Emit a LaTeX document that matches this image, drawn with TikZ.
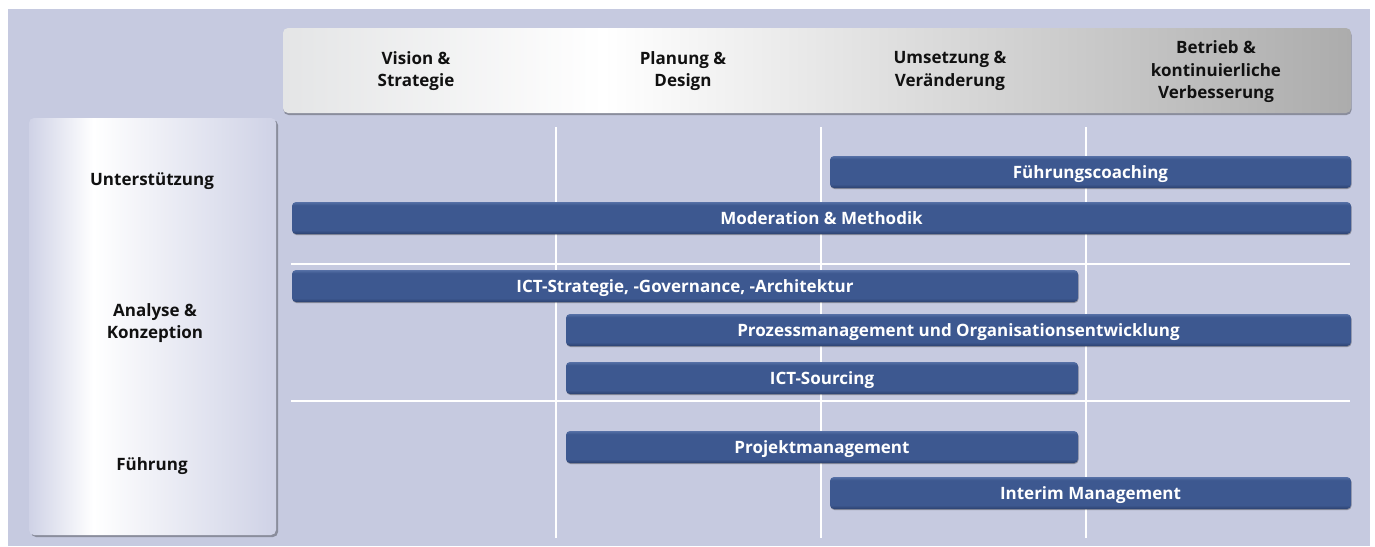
\documentclass[tikz,border=0pt]{standalone}
\usepackage{fontspec}
\setmainfont{Open Sans}
\usetikzlibrary{shadows}

\definecolor{backlav}{HTML}{C6CAE0}
\definecolor{levellav}{HTML}{CFD2E6}
\definecolor{barblue}{HTML}{3D5890}
\definecolor{bartop}{HTML}{5670A6}
\definecolor{barlow}{HTML}{2C416F}
\definecolor{headleft}{HTML}{E4E5E6}
\definecolor{headright}{HTML}{ACACAC}
\definecolor{labeltext}{HTML}{111111}

\pgfdeclarehorizontalshading{headshade}{100bp}{color(0bp)=(headleft); color(25bp)=(headleft); color(40bp)=(white); color(75bp)=(headright); color(100bp)=(headright)}
\pgfdeclarehorizontalshading{levelshade}{100bp}{color(0bp)=(levellav); color(25bp)=(levellav); color(38bp)=(white); color(75bp)=(levellav); color(100bp)=(levellav)}
\pgfdeclareverticalshading{barshade}{100bp}{color(0bp)=(barlow); color(25bp)=(barlow); color(31bp)=(barblue); color(70bp)=(barblue); color(75bp)=(bartop); color(100bp)=(bartop)}

\tikzset{
	bar/.style={rounded corners=4pt, shading=barshade, text=white, inner sep=0pt,
		minimum height=32pt, text height=13pt, text depth=1pt, font=\bfseries\fontsize{17}{20}\selectfont,
		drop shadow={shadow xshift=0.5pt, shadow yshift=-1pt, opacity=0.3, fill=black}},
	phase/.style={align=center, text=labeltext, font=\bfseries\fontsize{17}{22.5}\selectfont},
	level/.style={phase},
	gridline/.style={draw=white, line width=2pt},
}

\begin{document}
\begin{tikzpicture}[x=1pt, y=-1pt]
	\useasboundingbox (0,0) rectangle (1375,546);
	\fill [white] (0,0) rectangle (1375,546);
	\fill [backlav] (8,9) rectangle (1370,546);
	\node (header) [rounded corners=5pt, shading=headshade, minimum width=1068pt, minimum height=85pt,
		drop shadow={shadow xshift=0.5pt, shadow yshift=-2pt, opacity=0.3, fill=black}] at (817,70.5) {};
	\node (levels) [rounded corners=5pt, shading=levelshade, minimum width=247pt, minimum height=417pt,
		drop shadow={shadow xshift=2pt, shadow yshift=-2pt, opacity=0.3, fill=black}] at (152.5,326.5) {};
	\node (vision) [phase] at (416,71) {Vision \&\\Strategie};
	\node (design) [phase] at (683,71) {Planung \&\\Design};
	\node (change) [phase] at (950,71) {Umsetzung \&\\Veränderung};
	\node (operation) [phase] at (1216,72) {Betrieb \&\\kontinuierliche\\Verbesserung};
	\node (support) [level] at (152,181) {Unterstützung};
	\node (analysis) [level] at (155,323) {Analyse \&\\Konzeption};
	\node (lead) [level] at (152,466) {Führung};
	\draw [gridline] (556,127) -- (556,538);
	\draw [gridline] (821,127) -- (821,538);
	\draw [gridline] (1086,127) -- (1086,538);
	\draw [gridline] (291,264) -- (1350,264);
	\draw [gridline] (291,401) -- (1350,401);
	\node (coaching) [bar, minimum width=521pt] at (1090.5,172) {Führungscoaching};
	\node (moderation) [bar, minimum width=1059pt] at (821.5,218) {Moderation \& Methodik};
	\node (strategy) [bar, minimum width=786pt] at (685,286) {ICT-Strategie, -Governance, -Architektur};
	\node (process) [bar, minimum width=785pt] at (958.5,330) {Prozessmanagement und Organisationsentwicklung};
	\node (sourcing) [bar, minimum width=512pt] at (822,378) {ICT-Sourcing};
	\node (project) [bar, minimum width=512pt] at (822,447) {Projektmanagement};
	\node (interim) [bar, minimum width=521pt] at (1090.5,493) {Interim Management};
\end{tikzpicture}
\end{document}
